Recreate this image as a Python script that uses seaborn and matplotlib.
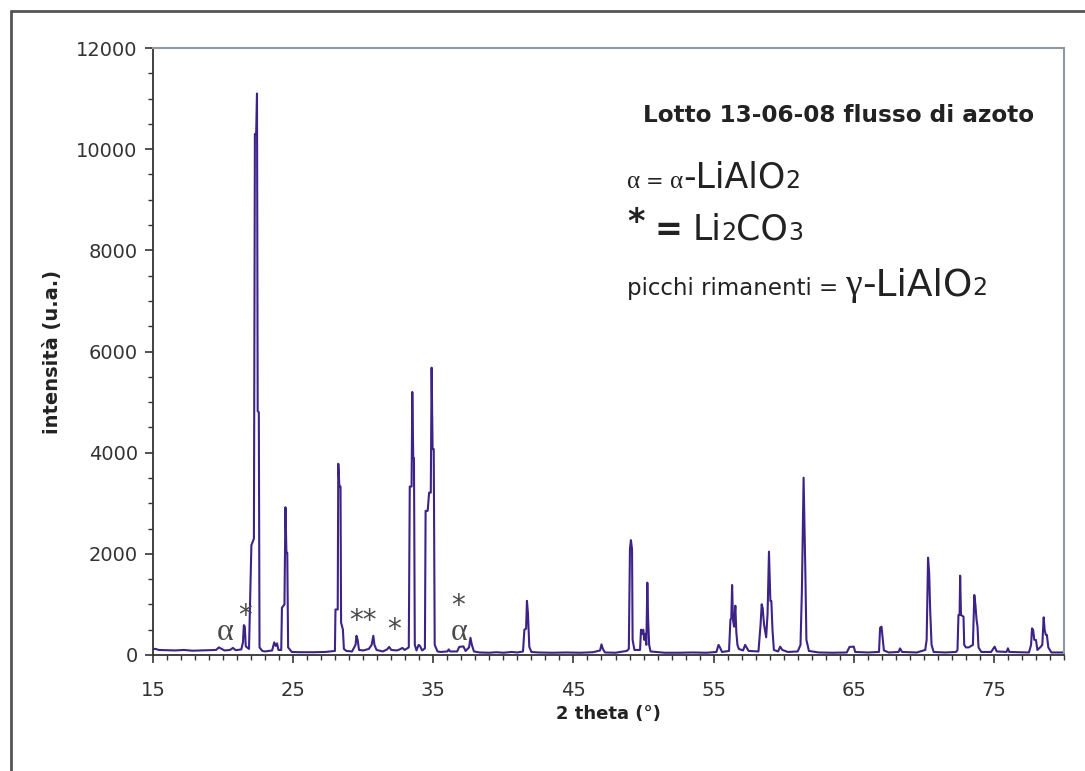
import matplotlib
matplotlib.use("Agg")
import matplotlib.pyplot as plt
import seaborn as sns
import pandas as pd
from matplotlib.lines import Line2D
from matplotlib.ticker import MultipleLocator

# ---- data (2 theta in degrees, intensity in a.u.) ----
two_theta = [
    15.0, 15.2, 15.4, 16.0, 16.6, 17.2, 17.8, 18.4, 19.0, 19.5, 19.7, 19.9, 20.1, 20.5, 20.7, 20.9,
    21.3, 21.42, 21.48, 21.55, 21.62, 21.85, 22.02, 22.2, 22.27, 22.36, 22.42, 22.47, 22.55, 22.6, 22.8,
    23.0, 23.5, 23.65, 23.75, 23.85, 23.95, 24.15, 24.2, 24.38, 24.45, 24.52, 24.58, 24.64, 24.9,
    25.5, 26.5, 27.3, 27.98, 28.02, 28.18, 28.22, 28.3, 28.38, 28.42, 28.55, 28.62, 28.8,
    29.2, 29.45, 29.52, 29.6, 29.7, 30.0, 30.4, 30.6, 30.72, 30.8, 30.95, 31.4, 31.7, 31.85, 32.0,
    32.4, 32.6, 32.8, 32.95, 33.25, 33.32, 33.45, 33.5, 33.57, 33.62, 33.68, 33.8, 33.95, 34.05, 34.2,
    34.4, 34.45, 34.6, 34.7, 34.82, 34.88, 34.95, 35.03, 35.1, 35.3,
    35.5, 36.0, 36.1, 36.2, 36.7, 36.85, 37.15, 37.3, 37.55, 37.65, 37.75, 37.9, 38.3, 39.0, 39.5,
    40.0, 40.6, 41.0, 41.4, 41.5, 41.62, 41.68, 41.75, 41.85, 42.0, 42.5, 43.5, 44.5, 45.5, 46.4,
    46.9, 47.0, 47.1, 47.25, 48.0, 48.8, 48.95, 49.03, 49.1, 49.18, 49.22, 49.35, 49.75, 49.82,
    49.9, 49.98, 50.05, 50.12, 50.2, 50.27, 50.33, 50.4, 50.5,
    51.5, 52.5, 53.5, 54.5, 55.2, 55.35, 55.45, 55.6, 56.1, 56.2, 56.26, 56.32, 56.38, 56.46, 56.55,
    56.62, 56.7, 56.8, 57.1, 57.25, 57.35, 57.5, 58.2, 58.35, 58.43, 58.5, 58.6, 58.75, 58.85, 58.95,
    59.05, 59.12, 59.2, 59.3, 59.6, 59.75, 59.9, 60.3, 61.0, 61.2, 61.3, 61.42, 61.48, 61.55, 61.62,
    61.8, 62.5, 63.5, 64.5, 64.7, 65.0, 65.1, 66.0, 66.8, 66.88, 66.98, 67.05, 67.15, 67.5, 68.2,
    68.3, 68.45, 69.5, 70.1, 70.2, 70.3, 70.38, 70.45, 70.55, 70.7, 71.5, 72.3, 72.4, 72.47, 72.55,
    72.59, 72.65, 72.83, 72.88, 73.0, 73.2, 73.5, 73.6, 73.68, 73.76, 73.83, 73.9, 74.1, 74.8, 75.05,
    75.2, 75.9, 76.0, 76.1, 77.5, 77.65, 77.72, 77.8, 77.88, 78.0, 78.1, 78.3, 78.45, 78.55, 78.62,
    78.7, 78.78, 78.88, 79.1, 80.0,
]
intensity = [
    120, 120, 100, 95, 90, 100, 85, 90, 95, 100, 150, 120, 90, 100, 140, 95,
    110, 250, 590, 560, 170, 120, 2170, 2300, 10300, 10300, 11100, 4820, 4800, 150, 80,
    70, 90, 250, 180, 230, 100, 100, 935, 1000, 2920, 2020, 2020, 150, 60,
    55, 55, 60, 80, 900, 900, 3780, 3330, 3330, 640, 500, 120, 80,
    70, 200, 380, 300, 100, 90, 120, 200, 380, 200, 100, 70, 110, 160, 100,
    90, 110, 140, 100, 150, 3330, 3330, 5200, 3890, 3890, 200, 90, 200, 180, 90,
    130, 2850, 2850, 3210, 3210, 5680, 4070, 4070, 200, 70,
    60, 70, 110, 70, 70, 160, 170, 80, 150, 340, 200, 70, 50, 45, 55,
    45, 60, 50, 70, 500, 520, 1070, 840, 160, 60, 50, 45, 50, 45, 55,
    90, 210, 120, 50, 45, 80, 120, 2100, 2270, 2090, 300, 100, 100, 500,
    420, 500, 300, 420, 200, 1430, 700, 200, 70,
    45, 45, 50, 45, 60, 200, 150, 60, 80, 700, 725, 1384, 700, 560, 975,
    450, 200, 120, 90, 200, 150, 80, 70, 600, 1002, 923, 600, 350, 824, 2043,
    1068, 1068, 500, 100, 70, 165, 100, 60, 70, 200, 1285, 3506, 2603, 1568, 300,
    80, 50, 45, 50, 160, 165, 60, 50, 60, 540, 560, 360, 90, 50, 60,
    130, 60, 50, 100, 300, 1924, 1628, 903, 200, 60, 50, 60, 100, 791, 791,
    1568, 791, 758, 200, 150, 150, 200, 1186, 988, 700, 560, 150, 60, 60, 165,
    70, 60, 132, 60, 50, 200, 527, 494, 300, 297, 100, 150, 200, 745, 494,
    400, 395, 150, 50, 50,
]

x_ticks = [15, 25, 35, 45, 55, 65, 75]
y_ticks = [0, 2000, 4000, 6000, 8000, 10000, 12000]

chart_title = "Lotto 13-06-08 flusso di azoto"
x_label = "2 theta (°)"
y_label = "intensità (u.a.)"

# peak markers (phase labels) and where they sit
mark_text = ["α", "*", "**", "*", "*", "α"]
mark_x = [20.14, 21.57, 30.0, 32.21, 36.79, 36.82]
mark_y = [435, 772, 673, 495, 970, 435]

# ---- figure ----
sns.set_theme(style="white")
plt.rcParams['font.family'] = ['DejaVu Sans']

W, H = 1085, 771
fig = plt.figure(figsize=(W / 100, H / 100), dpi=100)
fig.patch.set_facecolor("white")
L, R, T, B = 153, 1064, 48, 655
ax = fig.add_axes([L / W, 1 - B / H, (R - L) / W, (B - T) / H])

df = pd.DataFrame({"two_theta": two_theta, "intensity": intensity})
sns.lineplot(data=df, x="two_theta", y="intensity", sort=False, estimator=None,
             color="#3d2387", linewidth=1.5, ax=ax)

ax.set_xlim(15, 80)
ax.set_ylim(0, 12000)
ax.set_xticks(x_ticks)
ax.set_yticks(y_ticks)
ax.xaxis.set_minor_locator(MultipleLocator(1))
ax.yaxis.set_minor_locator(MultipleLocator(500))
ax.tick_params(axis="both", which="major", direction="out", length=5.5, width=1.2,
               color="#333333", labelsize=14, labelcolor="#333333")
ax.tick_params(axis="both", which="minor", direction="out", length=3.5, width=1.0,
               color="#333333")
ax.tick_params(axis="x", which="both", bottom=True, pad=13)
ax.tick_params(axis="y", which="both", left=True, pad=5.5)

for side in ["left", "bottom"]:
    ax.spines[side].set_color("#333333")
    ax.spines[side].set_linewidth(1.3)
for side in ["top", "right"]:
    ax.spines[side].set_color("#8e99a6")
    ax.spines[side].set_linewidth(1.5)

ax.set_xlabel(x_label, fontsize=13, fontweight="bold", color="#222222", labelpad=4)
ax.set_ylabel(y_label, fontsize=14, fontweight="bold", color="#222222", labelpad=10)

for txt, xx, yy in zip(mark_text, mark_x, mark_y):
    if txt == "α":
        ax.text(xx, yy, txt, fontsize=23, family="Liberation Serif", color="#4a4a4a",
                ha="center", va="center")
    else:
        ax.text(xx, yy, txt, fontsize=20, family="DejaVu Sans", color="#4a4a4a",
                ha="center", va="center")

renderer = fig.canvas.get_renderer()


def run(x_px, base_px, parts):
    """Write text pieces one after the other on a common baseline."""
    x = x_px
    for s, size, family, weight, lift, gap in parts:
        t = fig.text(x / W, 1 - (base_px - lift) / H, s, fontsize=size, family=family,
                     fontweight=weight, color="#222222", ha="left", va="baseline")
        bb = t.get_window_extent(renderer=renderer)
        x = bb.x1 + gap


SERIF = "Liberation Serif"
SANS = "DejaVu Sans"

run(643, 122, [(chart_title, 16.7, SANS, "bold", 0, 0)])

run(627, 188, [("α", 18, SERIF, "normal", 0, 6),
               ("=", 15, SANS, "normal", 0, 6),
               ("α", 18, SERIF, "normal", 0, 0),
               ("-LiAlO", 25, SANS, "normal", 0, 0),
               ("2", 17, SANS, "normal", 0, 0)])

run(627, 240, [("*", 24, SANS, "bold", 8, 10),
               ("=", 24, SANS, "bold", 0, 10),
               ("Li", 25, SANS, "normal", 0, 0),
               ("2", 17, SANS, "normal", 0, 0),
               ("CO", 25, SANS, "normal", 0, 0),
               ("3", 17, SANS, "normal", 0, 0)])

run(627, 295, [("picchi rimanenti = ", 16.5, SANS, "normal", 0, 0),
               ("γ", 27, SERIF, "normal", 0, 0),
               ("-LiAlO", 27, SANS, "normal", 0, 0),
               ("2", 17, SANS, "normal", 0, 0)])

# outer frame (left and top edges visible)
fig.add_artist(Line2D([11 / W, 11 / W], [0, 1 - 11 / H], transform=fig.transFigure,
                      color="#555555", linewidth=2))
fig.add_artist(Line2D([11 / W, 1], [1 - 11 / H, 1 - 11 / H], transform=fig.transFigure,
                      color="#555555", linewidth=2))

fig.savefig("out.png", dpi=100, facecolor="white")
